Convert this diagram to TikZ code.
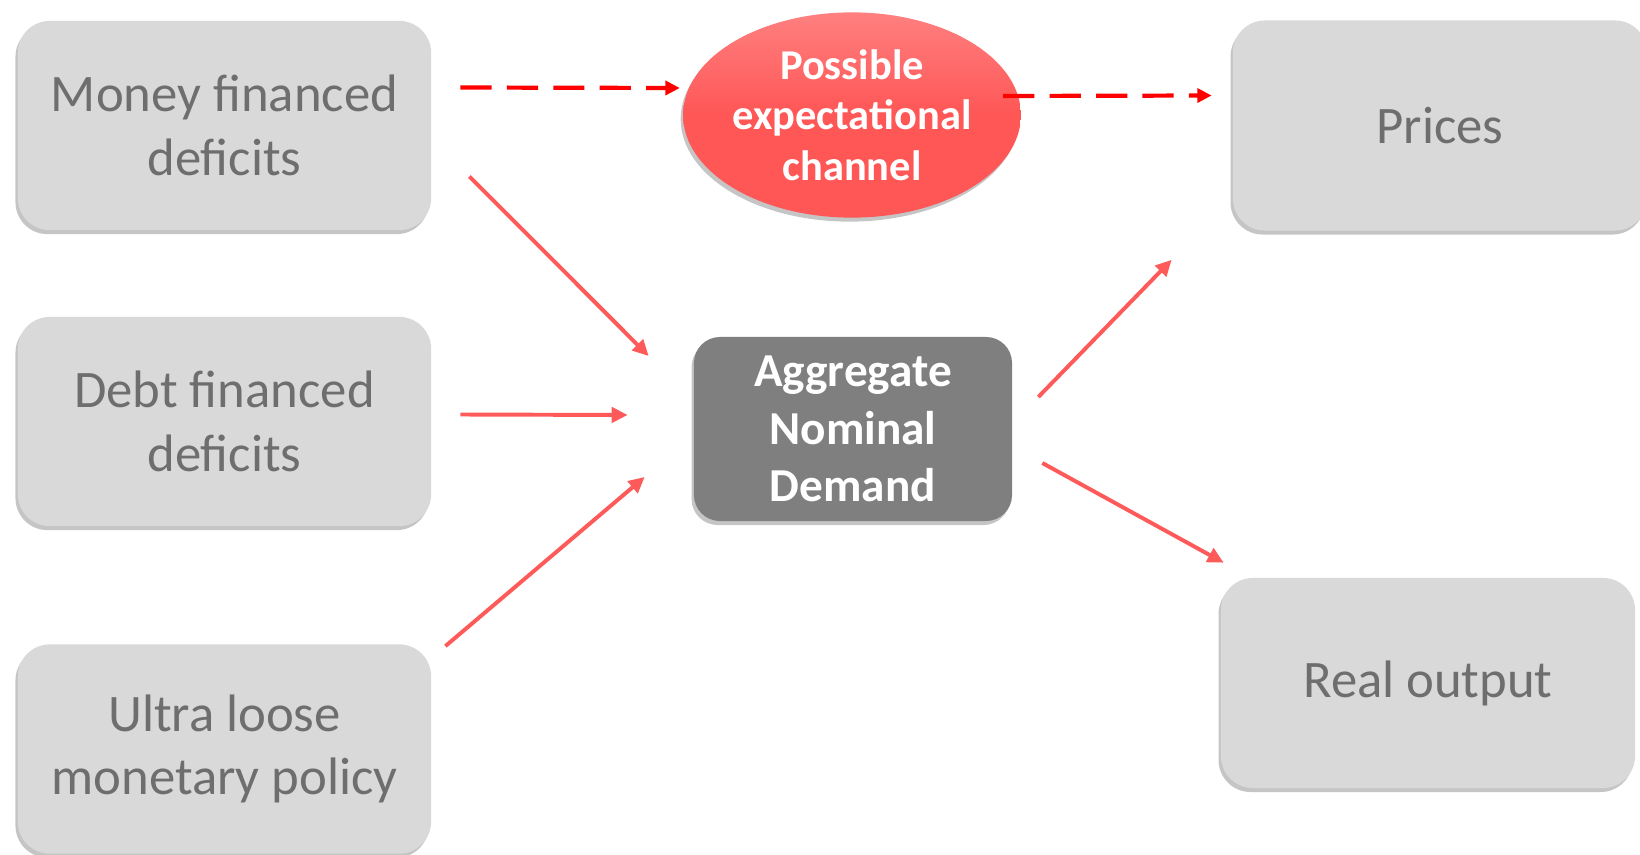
\documentclass[tikz,border=0pt]{standalone}
\usepackage{fontspec}
\setmainfont{Carlito}
\usetikzlibrary{positioning,arrows.meta,calc,shadows,shapes.geometric}
\definecolor{BoxGray}{HTML}{D9D9D9}
\definecolor{BoxText}{HTML}{6E6E6E}
\definecolor{HubGray}{HTML}{7F7F7F}
\definecolor{ArrowRed}{HTML}{FF5A5A}
\definecolor{DashRed}{HTML}{FF0000}
\definecolor{EllRed}{HTML}{FF5656}
\definecolor{EllTop}{HTML}{FF8080}
\tikzset{
  boxshadow/.style = {drop shadow={shadow xshift=-0.06cm, shadow yshift=-0.1cm,
                      opacity=0.32, fill=black!70}},
  srcbox/.style    = {rectangle, rounded corners=0.8cm, fill=BoxGray,
                      text=BoxText, minimum width=10.33cm, minimum height=5.23cm,
                      align=center, inner sep=0pt, boxshadow,
                      font=\fontsize{37.5}{45}\selectfont},
  outbox/.style    = {srcbox, minimum width=10.35cm, minimum height=5.25cm},
  hubbox/.style    = {rectangle, rounded corners=0.65cm, fill=HubGray,
                      text=white, minimum width=7.95cm, minimum height=4.6cm,
                      align=center, inner sep=0pt, boxshadow,
                      font=\bfseries\fontsize{33.6}{41}\selectfont},
  chanell/.style   = {ellipse, top color=EllTop, bottom color=EllRed,
                      middle color=EllRed, draw=none, text=white,
                      minimum width=8.38cm, minimum height=5.13cm,
                      align=center, inner sep=0pt, boxshadow,
                      font=\bfseries\fontsize{30.2}{36}\selectfont},
  flow/.style      = {draw=ArrowRed, line width=2.8pt,
                      -{Triangle[length=0.4cm, width=0.38cm]}},
  expect/.style    = {draw=DashRed, line width=3pt,
                      dash pattern=on 0.78cm off 0.38cm,
                      -{Triangle[length=0.36cm, width=0.35cm]}},
}

\begin{document}
\begin{tikzpicture}[x=0.025cm, y=-0.025cm]

% ---------------------------------------------------------------
% frame (picture size in px of the reference)
% ---------------------------------------------------------------
\clip (0,0) rectangle (1640,855);

% ---------------------------------------------------------------
% Boxes
% ---------------------------------------------------------------
\node[srcbox] (mfd)  at (224.5,125.5) {Money financed\\deficits};
\node[srcbox] (dfd)  at (224.5,421.5) {Debt financed\\deficits};
\node[srcbox] (ulmp) at (224.5,749)   {Ultra loose\\monetary policy};

\node[chanell] (pec) at (852,115) {Possible\\expectational\\channel};
\node[hubbox]  (and) at (853,429) {Aggregate\\Nominal\\Demand};

\node[outbox] (prices) at (1440,125.5) {Prices};
\node[outbox] (ro)     at (1428,683)   {Real output};

% ---------------------------------------------------------------
% Arrow ends (free ends, a little off the boxes)
% ---------------------------------------------------------------
\coordinate (mfd-dash)  at ([shift={(29,-38)}]mfd.east);
\coordinate (pec-in)    at ([shift={(-3,-27)}]pec.west);
\coordinate (pec-out)   at ([shift={(-18,-19)}]pec.east);
\coordinate (prices-in) at ([shift={(-21,-30)}]prices.west);

\coordinate (mfd-out)  at ([shift={(38,51)}]mfd.east);
\coordinate (and-in1)  at ([shift={(-45,-73)}]and.west);
\coordinate (dfd-out)  at ([shift={(29,-7)}]dfd.east);
\coordinate (and-in2)  at ([shift={(-66,-14)}]and.west);
\coordinate (ulmp-out) at ([shift={(14,2)}]ulmp.north east);
\coordinate (and-in3)  at ([shift={(-49,48)}]and.west);

\coordinate (and-out1) at ([shift={(26,-32)}]and.east);
\coordinate (prices-in2) at ([shift={(-61,29)}]prices.south west);
\coordinate (and-out2) at ([shift={(30,34)}]and.east);
\coordinate (ro-in)    at ([shift={(3,-15)}]ro.north west);

% ---------------------------------------------------------------
% Arrows
% ---------------------------------------------------------------
\draw[expect] (mfd-dash) -- (pec-in);
\draw[expect] (pec-out)  -- (prices-in);

\draw[flow] (mfd-out)  -- (and-in1);
\draw[flow] (dfd-out)  -- (and-in2);
\draw[flow] (ulmp-out) -- (and-in3);
\draw[flow] (and-out1) -- (prices-in2);
\draw[flow] (and-out2) -- (ro-in);

\end{tikzpicture}
\end{document}
